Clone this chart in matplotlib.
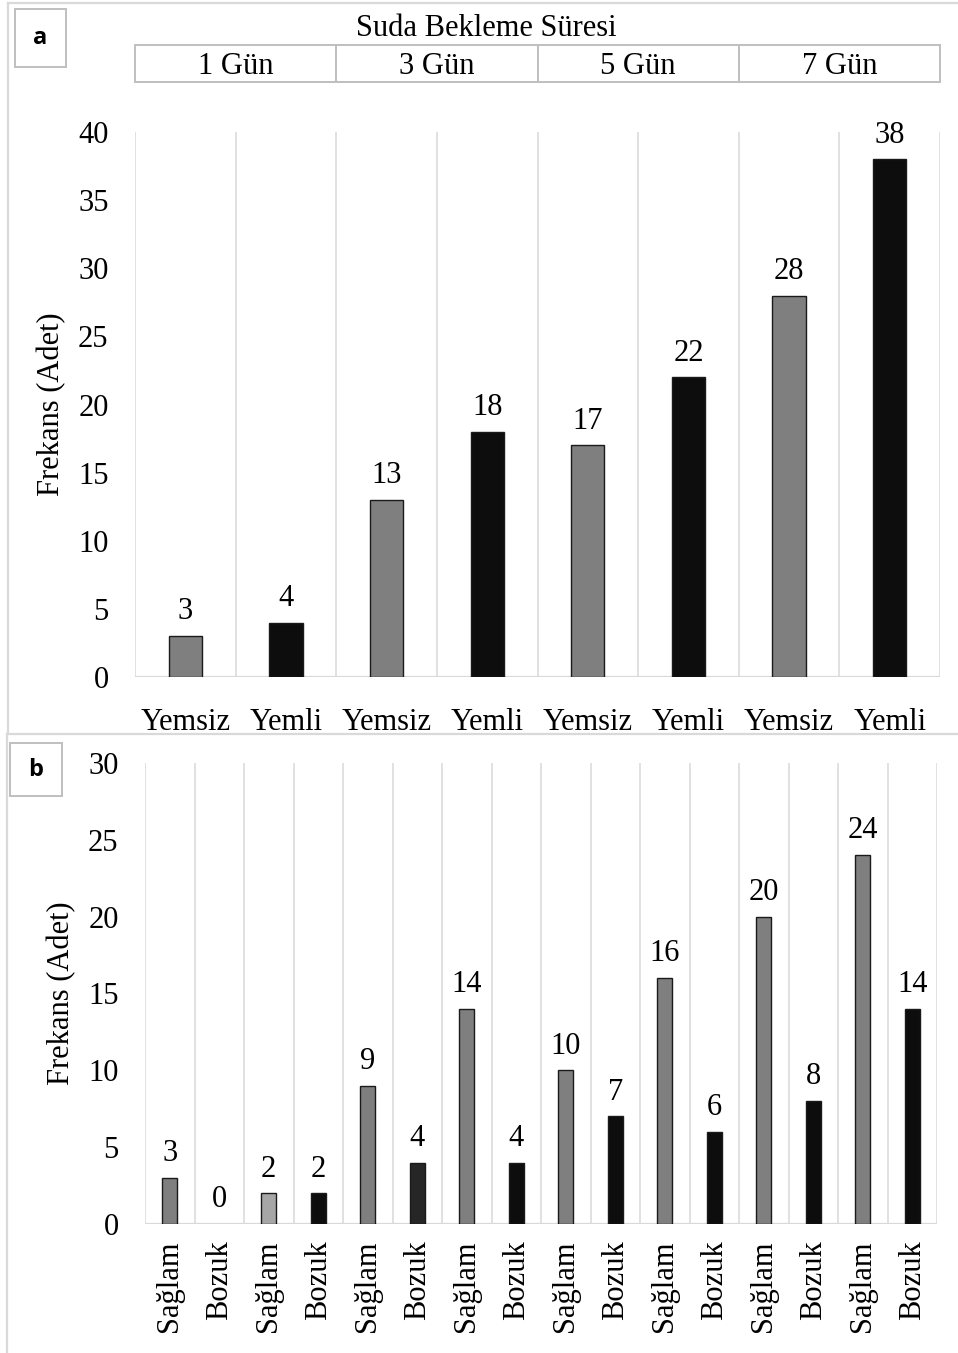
import numpy as np
import matplotlib
matplotlib.use("Agg")
import matplotlib.pyplot as plt
from matplotlib.patches import Rectangle
from matplotlib.lines import Line2D

plt.rcParams['font.family'] = ['Liberation Serif', 'DejaVu Serif']
plt.rcParams['font.size'] = 22

# ---- data -----------------------------------------------------------------
gun_labels = ['1 Gün', '3 Gün', '5 Gün', '7 Gün']
a_labels = ['Yemsiz', 'Yemli'] * 4
a_values = [3, 4, 13, 18, 17, 22, 28, 38]
a_colors = ['#7f7f7f', '#0d0d0d'] * 4

b_labels = ['Sağlam', 'Bozuk'] * 8
b_values = [3, 0, 2, 2, 9, 4, 14, 4, 10, 7, 16, 6, 20, 8, 24, 14]
b_colors = ['#7f7f7f', '#0d0d0d', '#a6a6a6', '#0d0d0d', '#7f7f7f', '#262626',
            '#7f7f7f', '#0d0d0d'] + ['#7f7f7f', '#0d0d0d'] * 4

W, H = 958, 1353
GRID = '#d9d9d9'
BOX = '#bfbfbf'


def rect(x0, y0, x1, y1):
    """Pixel box (top-left origin) -> figure fraction rect."""
    return [x0 / W, 1 - y1 / H, (x1 - x0) / W, (y1 - y0) / H]


def bar_panel(ax, labels, values, colors, width, ymax, step, rot, pad_x):
    n = len(values)
    x = np.arange(n)
    edge_w = [1.0 if v > 0 else 0 for v in values]
    ax.bar(x, values, width=width, color=colors, edgecolor='#1a1a1a',
           linewidth=edge_w, zorder=3)
    for xi, v in zip(x, values):
        ax.annotate(str(v), (xi, v), xytext=(0, 7), textcoords='offset points',
                    ha='center', va='bottom', fontsize=22, clip_on=False)
    ax.set_xlim(-0.5, n - 0.5)
    ax.set_ylim(0, ymax)
    for b in np.arange(n + 1) - 0.5:
        ax.axvline(b, color=GRID, lw=1.1, zorder=1)
    ax.axhline(0, color=GRID, lw=1.6, zorder=2)
    for s in ax.spines.values():
        s.set_visible(False)
    ax.set_yticks(np.arange(0, ymax + 1, step))
    ax.set_xticks(x)
    ax.set_xticklabels(labels, rotation=rot)
    ax.tick_params(axis='y', length=0, pad=19, labelsize=22)
    ax.tick_params(axis='x', length=0, pad=pad_x, labelsize=22)
    ax.set_ylabel('Frekans (Adet)', fontsize=22)


fig = plt.figure(figsize=(W / 100, H / 100), dpi=100)

# panel frames
for xs, ys in [([8, 8], [3, 734]), ([8, 958], [3, 3]), ([7, 958], [734, 734]),
               ([7, 7], [734, 1353])]:
    fig.add_artist(Line2D([x / W for x in xs], [1 - y / H for y in ys],
                          color=GRID, lw=1.6))

# ---- panel a ----------------------------------------------------------------
ax_a = fig.add_axes(rect(135, 132, 940, 677))
bar_panel(ax_a, a_labels, a_values, a_colors, 0.33, 40, 5, 0, 22)
ax_a.yaxis.set_label_coords(-0.086, 0.5)

# header with soaking-time groups
hdr = fig.add_axes(rect(135, 45, 940, 82))
hdr.set_xlim(-0.5, 7.5)
hdr.set_ylim(0, 1)
hdr.axis('off')
for i, g in enumerate(gun_labels):
    hdr.add_patch(Rectangle((2 * i - 0.5, 0), 2, 1, facecolor='white',
                            edgecolor=BOX, lw=1.4, clip_on=False))
    hdr.text(2 * i + 0.5, 0.42, g, ha='center', va='center', fontsize=22)
fig.text(486 / W, 1 - 29 / H, 'Suda Bekleme Süresi', ha='center',
         va='center', fontsize=22)

# ---- panel b ----------------------------------------------------------------
ax_b = fig.add_axes(rect(145, 763, 937, 1224))
bar_panel(ax_b, b_labels, b_values, b_colors, 0.3, 30, 5, 90, 12)
ax_b.yaxis.set_label_coords(-0.087, 0.5)

# panel letters
for letter, (x0, y0, x1, y1) in [('a', (15, 9, 66, 67)), ('b', (10, 743, 62, 796))]:
    fig.add_artist(Rectangle((x0 / W, 1 - y1 / H), (x1 - x0) / W, (y1 - y0) / H,
                             facecolor='white', edgecolor=BOX, lw=1.4))
    fig.text((x0 + x1) / 2 / W, 1 - (y0 + y1) / 2 / H, letter, ha='center',
             va='center', fontsize=17, fontweight='bold',
             family=['Open Sans', 'DejaVu Sans'])

fig.savefig('out.png', dpi=100)
